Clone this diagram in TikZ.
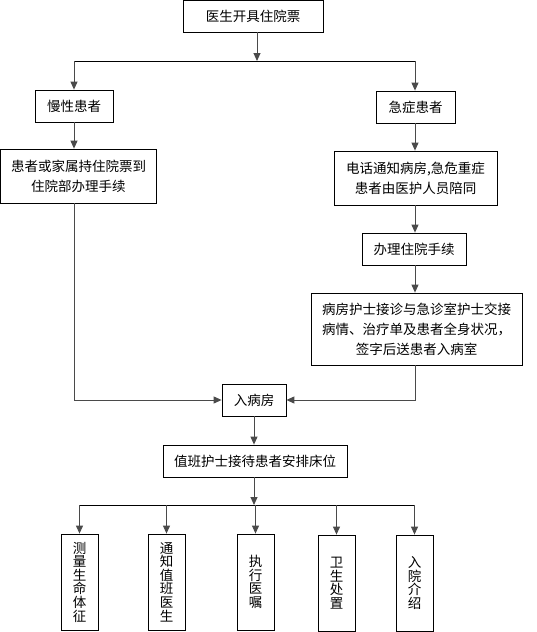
\documentclass[tikz,border=0pt]{standalone}
\usepackage{fontspec}
\setmainfont{Noto Sans CJK SC}
\usepackage{tikz}
\usetikzlibrary{positioning,arrows.meta,calc}
\definecolor{ink}{HTML}{000000}
\definecolor{wire}{HTML}{4A4A4A}
\tikzset{
  stepbox/.style={draw=ink, line width=0.8pt, align=center, fill=white, inner sep=0pt, font=\fontsize{13.5}{20}\selectfont},
  tallbox/.style={draw=ink, line width=0.8pt, align=center, fill=white, inner sep=0pt, minimum width=37pt, minimum height=96pt, font=\fontsize{13.5}{13.6}\selectfont},
  flowarrow/.style={-{Triangle[length=8pt,width=7pt]}, line width=1pt, draw=wire},
  forkline/.style={line width=1pt, draw=ink}
}

\begin{document}
\begin{tikzpicture}[x=1pt, y=-1pt]
  \useasboundingbox (0,0) rectangle (537,632);
  % admission ticket and the two kinds of patients
  \node[stepbox, minimum width=140pt, minimum height=32pt] (ticket) at (253,16) {医生开具住院票};
  \node[stepbox, minimum width=78pt, minimum height=32pt] (chronic) at (74,106) {慢性患者};
  \node[stepbox, minimum width=79pt, minimum height=32pt] (acute) at (415.5,107) {急症患者};
  \node[stepbox, minimum width=156pt, minimum height=54pt] (register) at (78.5,176) {患者或家属持住院票到\\住院部办理手续};
  \node[stepbox, minimum width=163pt, minimum height=54pt] (notify) at (415.5,178) {电话通知病房,急危重症\\患者由医护人员陪同};
  \node[stepbox, minimum width=104pt, minimum height=32pt] (admit) at (414,249) {办理住院手续};
  \node[stepbox, minimum width=211pt, minimum height=72pt] (handover) at (416.5,329) {病房护士接诊与急诊室护士交接\\病情、治疗单及患者全身状况，\\签字后送患者入病室};
  \node[stepbox, minimum width=64pt, minimum height=32pt] (ward) at (254,400) {入病房};
  \node[stepbox, minimum width=184pt, minimum height=32pt] (duty) at (255,461) {值班护士接待患者安排床位};
  % bottom tasks, vertical text
  \node[tallbox] (vitals) at (79.5,582) {测\\量\\生\\命\\体\\征};
  \node[tallbox] (doctor) at (166.5,582) {通\\知\\值\\班\\医\\生};
  \node[tallbox] (orders) at (255.5,582) {执\\行\\医\\嘱};
  \node[tallbox] (hygiene) at (336.5,583) {卫\\生\\处\\置};
  \node[tallbox] (intro) at (414.5,583) {入\\院\\介\\绍};
  \coordinate (forkA) at (257,61);
  \coordinate (forkB) at (254,505);
  \coordinate (laneR) at (415,0);
  \draw[flowarrow] (ticket.south -| forkA) -- (forkA);
  \draw[forkline] (chronic |- forkA) -- (laneR |- forkA);
  \draw[flowarrow] (chronic |- forkA) -- (chronic);
  \draw[flowarrow] (laneR |- forkA) -- (laneR |- acute.north);
  \draw[flowarrow] (chronic) -- (chronic |- register.north);
  \draw[flowarrow] (laneR |- acute.south) -- (laneR |- notify.north);
  \draw[flowarrow] (laneR |- notify.south) -- (laneR |- admit.north);
  \draw[flowarrow] (laneR |- admit.south) -- (laneR |- handover.north);
  \draw[flowarrow] (register.south -| chronic) |- (ward);
  \draw[flowarrow] (laneR |- handover.south) |- (ward);
  \draw[flowarrow] (ward) -- (ward |- duty.north);
  \draw[flowarrow] (ward |- duty.south) -- (forkB);
  \draw[forkline] (vitals |- forkB) -- (intro |- forkB);
  \foreach \task in {vitals,doctor,orders,hygiene,intro}
    \draw[flowarrow] (\task |- forkB) -- (\task);
\end{tikzpicture}
\end{document}
